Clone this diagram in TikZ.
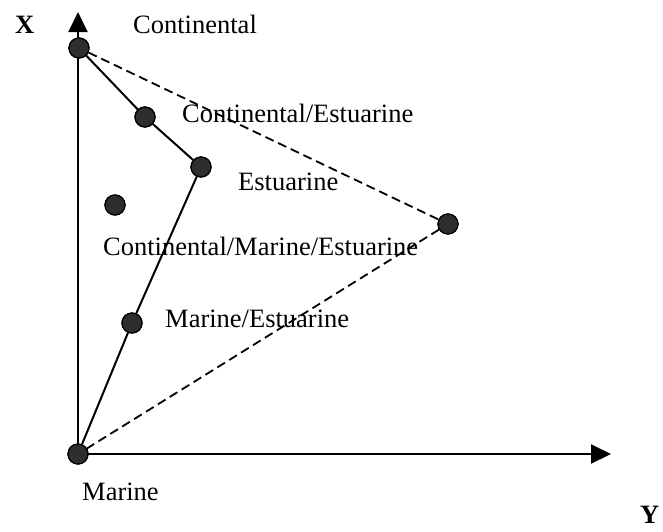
\documentclass[tikz,border=0pt]{standalone}
\usepackage{fontspec}
\setmainfont{Liberation Serif}
\usetikzlibrary{arrows.meta}
\begin{document}
\begin{tikzpicture}[x=1pt,y=-1pt,
  dot/.style={circle,draw=black,fill=black!82,line width=1.2pt,minimum size=20pt,inner sep=0pt},
  lbl/.style={anchor=base west,inner sep=0pt,font=\fontsize{26.5}{30}\selectfont},
  axlbl/.style={anchor=base west,inner sep=0pt,font=\fontsize{26.5}{30}\selectfont\bfseries},
  axis/.style={line width=2pt,-{Triangle[length=20pt,width=19pt]}},
  solidl/.style={line width=2pt},
  dashl/.style={line width=1.8pt,dash pattern=on 9pt off 5pt}]
\useasboundingbox (0,0) rectangle (663,531);
% points
\node[dot] (cont) at (79,48) {};
\node[dot] (contest) at (145,117) {};
\node[dot] (est) at (201,167) {};
\node[dot] (sep) at (115,205) {};
\node[dot] (right) at (448,224) {};
\node[dot] (marest) at (132,323) {};
\node[dot] (mar) at (78,454) {};
\coordinate (xtop) at (78,12);
\coordinate (yend) at (611,456);
% axes
\draw[axis] (mar.center) -- (xtop);
\draw[axis] (mar.center) -- (yend |- mar.center);
% solid path
\draw[solidl] (cont) -- (contest) -- (est) -- (marest) -- (mar);
% dashed path
\draw[dashl] (cont) -- (right) -- (mar);
% redraw dots on top
\foreach \p in {cont,contest,est,sep,right,marest,mar}
  \node[dot] at (\p) {};
% labels
\node[axlbl] (xl) at (15,33) {X};
\node[axlbl] (yl) at (640,523) {Y};
\node[lbl] (l1) at (133,33) {Continental};
\node[lbl] (l2) at (182,122) {Continental/Estuarine};
\node[lbl] (l3) at (238,190) {Estuarine};
\node[lbl] (l4) at (103,255) {Continental/Marine/Estuarine};
\node[lbl] (l5) at (165,327) {Marine/Estuarine};
\node[lbl] (l6) at (82,500) {Marine};
\end{tikzpicture}
\end{document}
